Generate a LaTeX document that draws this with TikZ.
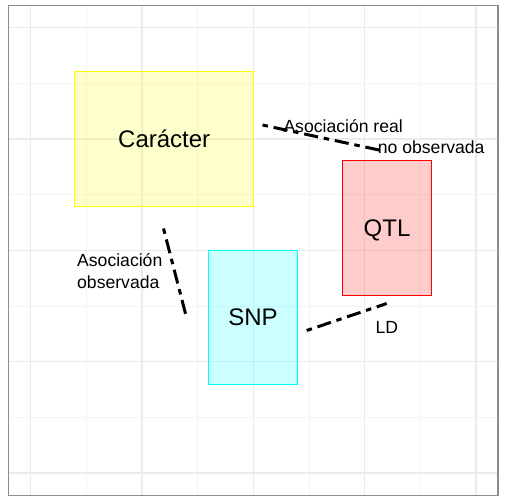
\documentclass[tikz,border=0pt]{standalone}
\usepackage{fontspec}
\setmainfont{Liberation Sans}
\definecolor{gridmaj}{HTML}{EBEBEB}
\definecolor{gridmin}{HTML}{F4F4F4}
\definecolor{frame}{HTML}{8C8C8C}
\definecolor{boxyellow}{HTML}{FFFF00}
\definecolor{boxred}{HTML}{FF0000}
\definecolor{boxcyan}{HTML}{00FFFF}
\begin{document}
\begin{tikzpicture}[x=1bp,y=-1bp,
  majline/.style={draw=gridmaj,line width=1.1bp},
  minline/.style={draw=gridmin,line width=0.8bp},
  box/.style={draw,line width=1bp,fill opacity=0.2,text opacity=1,inner sep=0pt,
    font=\fontsize{24bp}{28bp}\selectfont,text height=17.2bp,text depth=0pt},
  lbl/.style={anchor=base west,inner sep=0pt,font=\fontsize{17.6bp}{22bp}\selectfont},
  assoc/.style={line width=3bp,line cap=butt,
    dash pattern=on 5.5bp off 5.8bp on 14.2bp off 5.8bp}]
\useasboundingbox (0,0) rectangle (504,504);
\fill[white] (0,0) rectangle (504,504);
% grid
\foreach \v in {86.3,197.7,309,420.3} \draw[minline] (\v,5.3) -- (\v,495.3);
\foreach \v in {83,194.5,306,417.5} \draw[minline] (8.3,\v) -- (498,\v);
\foreach \v in {30.7,142,253.3,364.7,476} \draw[majline] (\v,5.3) -- (\v,495.3);
\foreach \v in {27.3,139,250.3,361.7,473} \draw[majline] (8.3,\v) -- (498,\v);
\draw[frame,line width=1.1bp] (8.3,5.3) rectangle (498,495.3);
% boxes
\node[box,draw=boxyellow,fill=boxyellow,minimum width=179bp,minimum height=134bp] (car) at (164.2,139) {Carácter};
\node[box,draw=boxred,fill=boxred,minimum width=89.4bp,minimum height=134bp] (qtl) at (387,228) {QTL};
\node[box,draw=boxcyan,fill=boxcyan,minimum width=89.4bp,minimum height=134.3bp] (snp) at (253,317.2) {SNP};
% connectors
\coordinate (a1) at (262.5,125);
\coordinate (a2) at (386,151.5);
\coordinate (b1) at (163.5,228.5);
\coordinate (b2) at (186.5,317.5);
\coordinate (c1) at (306.7,330.5);
\coordinate (c2) at (386.7,303.5);
\draw[assoc] (a1) -- (a2);
\draw[assoc] (b1) -- (b2);
\draw[assoc] (c1) -- (c2);
% labels
\node[lbl] (t1) at (283.3,132.5) {Asociación real};
\node[lbl] (t2) at (377.7,154) {no observada};
\node[lbl] (t3) at (77,266) {Asociación};
\node[lbl] (t4) at (77,288.3) {observada};
\node[lbl] (t5) at (375.3,333.3) {LD};
\end{tikzpicture}
\end{document}
